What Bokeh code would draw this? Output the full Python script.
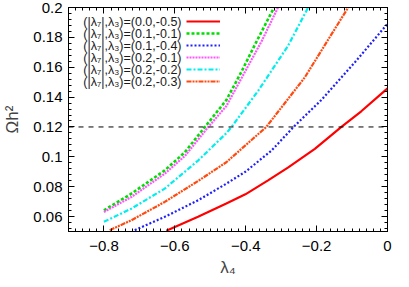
from bokeh.plotting import figure
from bokeh.models import (Range1d, Span, Label, Legend, LegendItem, LinearAxis,
                          SingleIntervalTicker, CustomJSTickFormatter)
from bokeh.core.properties import value
from bokeh.embed import file_html
from bokeh.resources import INLINE

# ---- data ----
labels = ["(|λ₇|,λ₃)=(0.0,-0.5)", "(|λ₇|,λ₃)=(0.1,-0.1)", "(|λ₇|,λ₃)=(0.1,-0.4)",
          "(|λ₇|,λ₃)=(0.2,-0.1)", "(|λ₇|,λ₃)=(0.2,-0.2)", "(|λ₇|,λ₃)=(0.2,-0.3)"]

red_x = [-0.624, -0.5345, -0.4547, -0.401, -0.337, -0.281, -0.205, -0.130, -0.074, 0.0]
red_y = [0.0505, 0.0598, 0.0687, 0.0749, 0.0842, 0.0928, 0.1053, 0.1200, 0.1305, 0.1458]

green_x = [-0.800, -0.7227, -0.6285, -0.572, -0.5157, -0.4547, -0.413, -0.370, -0.320]
green_y = [0.0642, 0.0753, 0.0909, 0.1030, 0.1198, 0.1380, 0.1565, 0.1770, 0.2000]

blue_x = [-0.713, -0.6285, -0.5345, -0.4547, -0.401, -0.328, -0.265, -0.187, -0.093, 0.0]
blue_y = [0.0509, 0.0598, 0.0709, 0.0820, 0.0900, 0.1040, 0.1200, 0.1380, 0.1630, 0.1891]

mag_x = [-0.800, -0.7227, -0.6285, -0.572, -0.5063, -0.4547, -0.400, -0.355, -0.309]
mag_y = [0.0631, 0.0731, 0.0887, 0.1005, 0.1198, 0.1340, 0.1579, 0.1775, 0.2000]

cyan_x = [-0.800, -0.7227, -0.6285, -0.5345, -0.4547, -0.440, -0.365, -0.281, -0.224]
cyan_y = [0.0565, 0.0653, 0.0787, 0.0975, 0.1158, 0.1200, 0.1442, 0.1742, 0.2000]

orange_x = [-0.7837, -0.7227, -0.6285, -0.5345, -0.4547, -0.342, -0.234, -0.111]
orange_y = [0.0509, 0.0575, 0.0698, 0.0838, 0.0964, 0.1200, 0.1530, 0.2000]

relic = 0.12

series = [
    (red_x, red_y, "#ff0000", "solid", 2.2),
    (green_x, green_y, "#00dd00", "3 2", 2.6),
    (blue_x, blue_y, "#2020ff", "2 2", 2.2),
    (mag_x, mag_y, "#ff55ff", "2 1", 2.2),
    (cyan_x, cyan_y, "#00eeee", "5 2 2 2", 2.2),
    (orange_x, orange_y, "#ff4a10", "5 1 2 1 2 1", 2.2),
]

FONT = "Liberation Sans"
FW, FH = 319, 224

p = figure(frame_width=FW, frame_height=FH, output_backend="svg", toolbar_location=None,
           x_range=Range1d(-0.9, 0.0), y_range=Range1d(0.05, 0.2),
           min_border_left=62, min_border_right=12, min_border_top=7,
           min_border_bottom=40, background_fill_color="white",
           border_fill_color="white")
p.grid.visible = False
p.outline_line_color = "black"
p.outline_line_width = 1


def style_axis(ax, show_labels=True):
    ax.major_tick_in = 6
    ax.major_tick_out = 0
    ax.minor_tick_in = 3
    ax.minor_tick_out = 0
    ax.axis_line_color = "black"
    ax.major_tick_line_color = "black"
    ax.minor_tick_line_color = "black"
    ax.major_label_text_font = FONT
    ax.major_label_text_font_size = "15px"
    ax.major_label_text_color = "black"
    ax.major_label_standoff = 6 if show_labels else 0
    if not show_labels:
        ax.formatter = CustomJSTickFormatter(code="return ''")


p.xaxis.ticker = SingleIntervalTicker(interval=0.2, num_minor_ticks=10)
p.yaxis.ticker = SingleIntervalTicker(interval=0.02, num_minor_ticks=5)
for ax in p.xaxis + p.yaxis:
    style_axis(ax)
p.xaxis.major_label_standoff = 9
p.xaxis.axis_label = "λ₄"
p.yaxis.axis_label = "Ωh²"
for ax in p.xaxis + p.yaxis:
    ax.axis_label_text_font = FONT
    ax.axis_label_text_font_style = "normal"
    ax.axis_label_text_font_size = "17px"
p.xaxis.axis_label_standoff = 4
p.yaxis.axis_label_standoff = 8

top = LinearAxis(ticker=SingleIntervalTicker(interval=0.2, num_minor_ticks=10))
right = LinearAxis(ticker=SingleIntervalTicker(interval=0.02, num_minor_ticks=5))
for ax in (top, right):
    style_axis(ax, show_labels=False)
p.add_layout(top, "above")
p.add_layout(right, "right")

p.add_layout(Span(location=relic, dimension="width", line_color="black",
                  line_dash="5 5", line_width=1))

items = []
for (xs, ys, col, dash, lw), lab in zip(series, labels):
    r = p.line(xs, ys, line_color=col, line_dash=dash, line_width=lw)
    items.append(LegendItem(label=value(" "), renderers=[r]))

ROW = 12
first_row = FH - 14  # centre of first legend row, from frame bottom
leg = Legend(items=items, location=(118, first_row + ROW // 2 - 6 * ROW),
             orientation="vertical", glyph_width=34, glyph_height=ROW,
             label_height=ROW, label_width=0, label_standoff=0,
             label_text_font_size="10px", spacing=0, padding=0, margin=0,
             background_fill_alpha=0.0, border_line_alpha=0.0)
p.add_layout(leg, "center")

for i, lab in enumerate(labels):
    p.add_layout(Label(x=113, y=first_row - i * ROW, x_units="screen",
                       y_units="screen", text=lab, text_align="right",
                       text_baseline="middle", text_font=FONT,
                       text_font_size="12.5px", text_color="#1a1a1a"))

open("out.html", "w").write(file_html(p, INLINE))
